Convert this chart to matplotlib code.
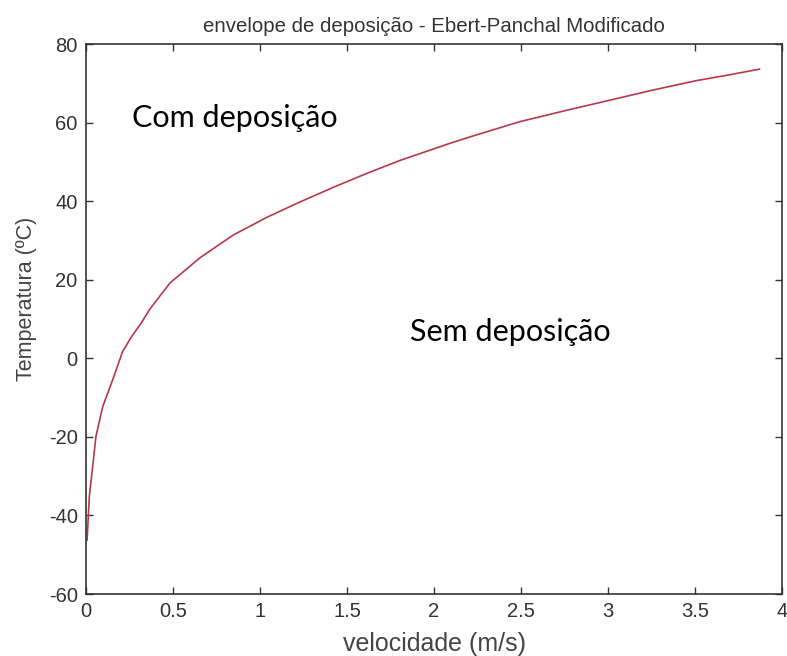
import matplotlib.pyplot as plt
import numpy as np

# curve
velocidade = [0.006, 0.010, 0.019, 0.038, 0.057, 0.096, 0.153, 0.210, 0.260, 0.316, 0.368,
              0.483, 0.655, 0.847, 1.040, 1.230, 1.420, 1.610, 1.800, 2.090, 2.210,
              2.490, 2.750, 3.010, 3.260, 3.510, 3.690, 3.870]
temperatura = [-46.3, -42.8, -35.2, -27.6, -19.9, -12.3, -5.5, 1.7, 5.4, 8.9, 12.6,
               19.2, 25.6, 31.4, 35.9, 39.8, 43.5, 47.0, 50.3, 54.7, 56.4,
               60.2, 63.0, 65.7, 68.3, 70.7, 72.1, 73.6]

xticks = [0, 0.5, 1, 1.5, 2, 2.5, 3, 3.5, 4]
xticklabels = ['0', '0.5', '1', '1.5', '2', '2.5', '3', '3.5', '4']
yticks = [-60, -40, -20, 0, 20, 40, 60, 80]
yticklabels = ['-60', '-40', '-20', '0', '20', '40', '60', '80']

plt.rcParams['font.family'] = ['Liberation Sans', 'DejaVu Sans']

fig = plt.figure(figsize=(7.87, 6.56), dpi=100)
ax = fig.add_axes([0.1093, 0.0945, 0.8844, 0.8384])

ax.plot(velocidade, temperatura, color='#b8384a', linewidth=1.2)

ax.set_xlim(0, 4)
ax.set_ylim(-60, 80)
ax.set_xticks(xticks)
ax.set_xticklabels(xticklabels)
ax.set_yticks(yticks)
ax.set_yticklabels(yticklabels)
ax.tick_params(direction='in', length=5, width=1, top=True, right=True,
               labelsize=14.5, colors='#333333', pad=6)
for s in ax.spines.values():
    s.set_color('#333333')
    s.set_linewidth(1.2)

ax.set_title('envelope de deposição - Ebert-Panchal Modificado', fontsize=14.7,
             color='#333333', pad=9)
ax.set_xlabel('velocidade (m/s)', fontsize=18, color='#444444', labelpad=8)
ax.set_ylabel('Temperatura (ºC)', fontsize=15.5, color='#444444')
ax.yaxis.set_label_coords(-0.070, 0.536)

ax.text(0.264, 61.2, 'Com deposição', fontsize=22, family='Lato', va='center', ha='left')
ax.text(1.86, 6.7, 'Sem deposição', fontsize=22, family='Lato', va='center', ha='left')

plt.savefig('out.png', dpi=100)
